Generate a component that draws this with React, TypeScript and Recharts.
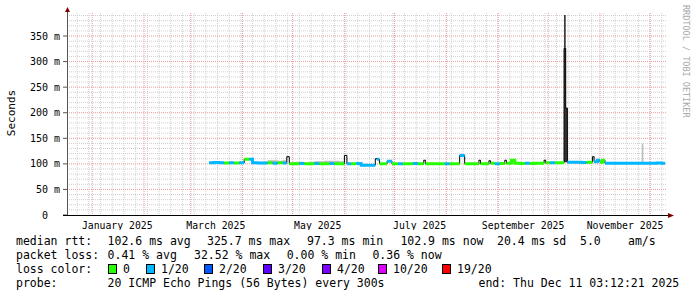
import React from 'react'
import { ComposedChart, Line, Area, XAxis, YAxis, CartesianGrid } from 'recharts'

// time axis in days, day 0 = 1 Jan 2025
const START_DAY = -15.1
const END_DAY = 344.13
const LAST_SAMPLE_END = 343

const X_LABELS = ['January 2025', 'March 2025', 'May 2025', 'July 2025', 'September 2025', 'November 2025']
const X_LABEL_DAYS = [15, 74, 135, 196, 258, 319]
const MONTH_START_DAYS = [0, 31, 59, 90, 120, 151, 181, 212, 243, 273, 304, 334]
const WEEK_START_DAYS = [-9, -2, 5, 12, 19, 26, 33, 40, 47, 54, 61, 68, 75, 82, 89, 96, 103, 110, 117, 124, 131, 138, 145, 152, 159, 166, 173, 180, 187, 194, 201, 208, 215, 222, 229, 236, 243, 250, 257, 264, 271, 278, 285, 292, 299, 306, 313, 320, 327, 334, 341]

const Y_TICKS = [0, 50, 100, 150, 200, 250, 300, 350]
const Y_MINOR = [10, 20, 30, 40, 60, 70, 80, 90, 110, 120, 130, 140, 160, 170, 180, 190, 210, 220, 230, 240, 260, 270, 280, 290, 310, 320, 330, 340, 360, 370, 380, 390]

const SAMPLE_DAYS = [
  70, 73, 76, 79, 82, 85, 88, 91, 94, 96, 99, 102, 105, 108, 111, 114, 116.5, 118, 121, 124,
  127, 130, 133, 136, 139, 142, 145, 148, 151, 152.5, 155, 158, 161, 164, 167, 169.5, 170.5, 172, 175, 176.5,
  179.5, 183, 186, 189, 192, 195, 198.5, 199.5, 202, 205, 208, 211, 214, 217, 220, 223, 226, 229, 231.5, 232.5,
  235, 237.5, 238.5, 241, 244, 247, 248, 251, 253, 256, 259, 262, 265, 268, 270.5, 271.5, 274, 277, 280, 282.5,
  283.5, 284.5, 287, 290, 293, 296, 299.5, 300.5, 302.5, 304, 305.5, 307, 310, 314, 318, 322, 326, 329, 330, 334,
  338, 341,
]
const MEDIAN_MS = [
  102, 102.5, 102, 101.5, 102, 101.5, 102, 109, 109, 102, 101.5, 101.5, 102, 101, 102, 101.5, 114, 100, 100, 100.5,
  100, 100, 100.5, 100, 100, 100.5, 100, 100, 116.5, 100, 100, 100.5, 97.5, 97.3, 97.5, 110, 109, 100, 100, 105,
  100, 100, 100, 100, 100.5, 100, 107, 100, 100, 100, 100, 100, 100, 100, 116.5, 100, 100, 100, 107, 100,
  100, 106, 101, 100, 100.5, 107, 101, 107, 101, 100.5, 101, 100.5, 101, 101, 107, 102, 102, 102, 102, 325.7,
  209, 103, 103, 103, 102.5, 103, 114, 104, 107, 103, 107, 101, 101, 101, 101, 101, 101, 101, 101, 101,
  101.5, 101,
]
// 0 = 0/20 lost, 1 = 1/20 lost, -1 = drawn only as dark median
const LOSS = [
  1, 1, 1, 0, 1, 0, 1, 0, 1, 1, 1, 1, 0, 1, 0, 1, -1, 0, 0, 1,
  0, 0, 1, 0, 0, 1, 0, 0, -1, 1, 0, 1, 1, 1, 1, -1, 1, 0, 0, 1,
  0, 1, 0, 0, 1, 0, -1, 0, 0, 0, 0, 1, 0, 0, 1, 0, 0, 0, -1, 0,
  0, -1, 0, 1, 0, -1, 0, 0, 0, 0, 1, 0, 0, 0, -1, 0, 1, 0, 0, -1,
  -1, 1, 1, 1, 1, 0, -1, 1, 1, 0, 0, 1, 1, 1, 1, 1, 1, 1, 1, 1,
  1, 1,
]
const SMOKE_TOP_MS = [
  103, 104, 103, 103, 103, 103, 104, 110, 110, 103, 103, 104, 107, 107, 106, 107, 115, 103, 104, 104,
  103, 104, 105, 105, 106, 106, 106, 105, 118, 102, 102, 102, 99, 99, 99, 111, 110, 101, 101, 106,
  101, 101, 102, 102, 102, 102, 108, 102, 102, 101, 102, 102, 101, 102, 118, 101, 102, 102, 108, 101,
  102, 107, 102, 102, 102, 108, 102, 108, 102, 102, 102, 102, 102, 102, 108, 103, 103, 103, 103, 326,
  209, 104, 104, 104, 104, 104, 115, 105, 108, 104, 108, 102, 102, 102, 102, 102, 102, 140, 102, 102,
  102, 102,
]
const DARK_SMOKE: Record<number, [number, number]> = { 282.5: [103, 391], 283.5: [103, 209] }

const LOSS_LEGEND = ['0', '1/20', '2/20', '3/20', '4/20', '10/20', '19/20']
const LOSS_COLORS = ['#26ff00', '#00b8ff', '#0059ff', '#5e00ff', '#7e00ff', '#dd00ff', '#ff0000']
const LOSS_BOX_X = [108, 146, 204, 263, 322, 378, 442]

const FONT = '"DejaVu Sans Mono", monospace'

const rows: any[] = []
SAMPLE_DAYS.forEach((d, i) => {
  const next = i < SAMPLE_DAYS.length - 1 ? SAMPLE_DAYS[i + 1] : LAST_SAMPLE_END
  const m = MEDIAN_MS[i]
  const base = {
    med: m,
    smoke: [m - 1, SMOKE_TOP_MS[i]],
    dark: DARK_SMOKE[d] ?? null,
    g: LOSS[i] === 0 ? m : null,
    c: LOSS[i] === 1 ? m : null,
  }
  rows.push({ d, ...base })
  rows.push({ d: next - 0.02, ...base })
})

const XTick = ({ x, payload }: any) => {
  const idx = X_LABEL_DAYS.indexOf(payload.value)
  return (
    <text x={x} y={228.5} textAnchor="middle" fontFamily={FONT} fontSize={9.8} fill="#000">
      {X_LABELS[idx]}
    </text>
  )
}

const YTick = ({ y, payload }: any) => (
  <g>
    <line x1={63} x2={67} y1={y} y2={y} stroke="#555" />
    <text x={payload.value === 0 ? 48 : 60} y={y + 3.5} textAnchor="end" fontFamily={FONT} fontSize={10} fill="#000">
      {payload.value === 0 ? '0' : `${payload.value} m`}
    </text>
  </g>
)

const Row = ({ y, items }: { y: number; items: [number, string][] }) => (
  <>
    {items.map(([x, t], i) => (
      <text key={i} x={x} y={y} fontFamily={FONT} fontSize={11.5} fill="#000" xmlSpace="preserve">
        {t}
      </text>
    ))}
  </>
)

export default function App() {
  return (
    <div style={{ position: 'absolute', left: 0, top: 0, width: 697, height: 297, background: '#fff' }}>
      <ComposedChart width={697} height={230} data={rows} margin={{ top: 13, right: 30, bottom: 0, left: 0 }}>
        <CartesianGrid
          stroke="#cfcfcf"
          strokeDasharray="1 1"
          horizontalValues={Y_MINOR}
          verticalValues={WEEK_START_DAYS}
        />
        <CartesianGrid
          stroke="#e89a9a"
          strokeDasharray="1 1"
          horizontalValues={Y_TICKS.slice(1)}
          verticalValues={MONTH_START_DAYS}
        />
        <XAxis
          dataKey="d"
          type="number"
          domain={[START_DAY, END_DAY]}
          allowDataOverflow
          ticks={X_LABEL_DAYS}
          interval={0}
          tick={XTick}
          tickLine={false}
          axisLine={false}
          height={15}
        />
        <YAxis
          type="number"
          domain={[0, 395]}
          allowDataOverflow
          ticks={Y_TICKS}
          interval={0}
          tick={YTick}
          tickLine={false}
          axisLine={false}
          width={67}
        />
        <Area dataKey="smoke" type="linear" stroke="none" fill="#bdbdbd" fillOpacity={1} isAnimationActive={false} />
        <Area dataKey="dark" type="linear" stroke="none" fill="#333" fillOpacity={1} isAnimationActive={false} />
        <Line dataKey="med" type="linear" stroke="#000" strokeWidth={1} dot={false} activeDot={false} isAnimationActive={false} />
        <Line dataKey="c" type="linear" stroke={LOSS_COLORS[1]} strokeWidth={3} dot={false} activeDot={false} isAnimationActive={false} />
        <Line dataKey="g" type="linear" stroke={LOSS_COLORS[0]} strokeWidth={3} dot={false} activeDot={false} isAnimationActive={false} />
      </ComposedChart>
      <svg width={697} height={297} style={{ position: 'absolute', left: 0, top: 0, pointerEvents: 'none' }}>
        <line x1={67.5} y1={215} x2={67.5} y2={11} stroke="#555" />
        <polygon points="67.5,7 65,12 70,12" fill="#7f0000" />
        <line x1={63} y1={215.5} x2={668} y2={215.5} stroke="#000" />
        <polygon points="674,215.5 668,213 668,218" fill="#7f0000" />
        <text
          transform="translate(14.5,113) rotate(-90)"
          textAnchor="middle"
          fontFamily={FONT}
          fontSize={11}
          fill="#000"
        >
          Seconds
        </text>
        <text transform="translate(683,5) rotate(90)" fontFamily={FONT} fontSize={8.5} fill="#a8a8a8">
          RRDTOOL / TOBI OETIKER
        </text>
        <Row
          y={245}
          items={[
            [16, 'median rtt:'],
            [107.6, '102.6 ms avg'],
            [207, '325.7 ms max'],
            [307, '97.3 ms min'],
            [400.4, '102.9 ms now'],
            [497, '20.4 ms sd'],
            [580, '5.0'],
            [628, 'am/s'],
          ]}
        />
        <Row
          y={259}
          items={[
            [16, 'packet loss:'],
            [107.6, '0.41 % avg'],
            [194, '32.52 % max'],
            [286.7, '0.00 % min'],
            [372.4, '0.36 % now'],
          ]}
        />
        <Row y={273} items={[[16, 'loss color:']]} />
        {LOSS_LEGEND.map((t, i) => (
          <g key={t}>
            <rect x={LOSS_BOX_X[i] + 0.5} y={264.5} width={8} height={9} fill={LOSS_COLORS[i]} stroke="#000" />
            <text x={LOSS_BOX_X[i] + 15} y={273} fontFamily={FONT} fontSize={11.5} fill="#000">
              {t}
            </text>
          </g>
        ))}
        <Row
          y={287}
          items={[
            [16, 'probe:'],
            [107.6, '20 ICMP Echo Pings (56 Bytes) every 300s'],
            [478.5, 'end: Thu Dec 11 03:12:21 2025'],
          ]}
        />
      </svg>
    </div>
  )
}
